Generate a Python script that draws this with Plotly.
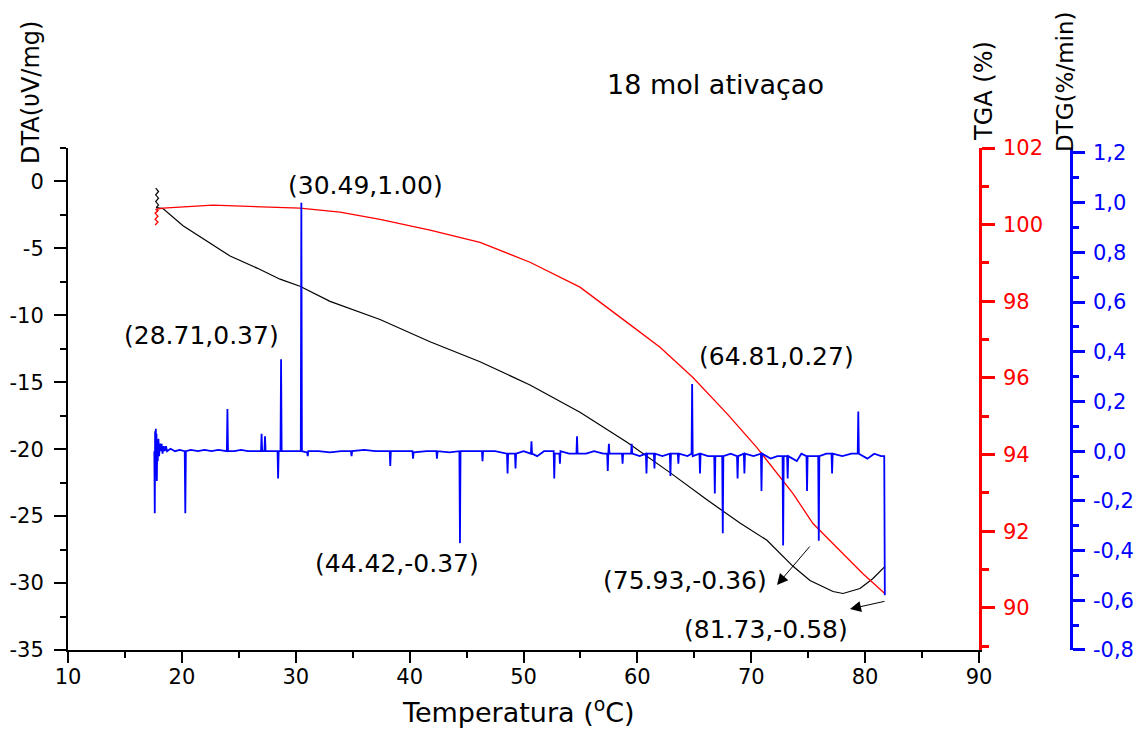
import plotly.graph_objects as go

# ---------------- data ----------------
dta_temp = [17.70, 17.95, 17.70, 17.95, 17.70, 17.95, 17.75, 18.34, 20.10, 22.21,
            24.23, 26.60, 28.62, 30.37, 33.01, 37.40, 41.79, 46.18, 50.57, 54.96,
            59.09, 62.87, 66.11, 69.01, 71.38, 73.67, 75.16, 77.18, 78.06, 79.55,
            80.69, 81.75]
dta_value = [-0.50, -0.75, -1.00, -1.25, -1.50, -1.75, -1.95, -2.03, -3.31, -4.44,
             -5.57, -6.47, -7.30, -7.83, -8.96, -10.31, -11.97, -13.47, -15.20, -17.24,
             -19.49, -21.75, -23.78, -25.52, -26.80, -28.75, -29.81, -30.63, -30.78, -30.41,
             -29.66, -28.75]

tga_temp = [17.65, 17.90, 17.65, 17.90, 17.65, 17.90, 17.70, 18.34, 22.73, 26.60,
            30.37, 33.89, 37.40, 41.79, 46.18, 50.57, 54.96, 59.09, 61.99, 64.88,
            67.87, 70.50, 73.67, 75.42, 77.79, 79.81, 81.75]
tga_value = [99.99, 100.07, 100.14, 100.22, 100.30, 100.36, 100.40, 100.43, 100.51, 100.46,
             100.43, 100.33, 100.14, 99.86, 99.54, 99.02, 98.37, 97.45, 96.80, 96.01,
             95.07, 94.18, 92.98, 92.20, 91.49, 90.89, 90.37]

dtg_temp = [17.58, 17.62, 17.65, 17.68, 17.71, 17.74, 17.77, 17.80, 17.84, 17.88,
            17.94, 18.00, 18.06, 18.14, 18.22, 18.30, 18.40, 18.50, 18.60, 18.70,
            19.00, 19.40, 19.80, 20.25, 20.30, 20.35, 20.80, 21.40, 22.00, 22.60,
            23.20, 23.95, 24.00, 24.05, 24.60, 25.20, 25.80, 26.40, 26.95, 27.00,
            27.05, 27.25, 27.30, 27.35, 28.00, 28.40, 28.45, 28.50, 28.66, 28.71,
            28.76, 29.40, 30.00, 30.44, 30.49, 30.54, 31.00, 31.05, 31.10, 32.00,
            33.00, 34.00, 34.85, 34.90, 34.95, 36.00, 37.00, 38.25, 38.30, 38.35,
            39.30, 40.25, 40.30, 40.35, 41.50, 42.35, 42.40, 42.45, 43.50, 44.37,
            44.42, 44.47, 45.20, 46.35, 46.40, 46.45, 47.50, 48.55, 48.60, 48.65,
            49.25, 49.30, 49.35, 50.00, 50.65, 50.70, 50.75, 51.20, 51.80, 52.65,
            52.70, 52.75, 53.15, 53.20, 53.25, 54.00, 54.65, 54.70, 54.75, 55.50,
            56.20, 57.00, 57.35, 57.40, 57.45, 57.50, 57.55, 58.20, 58.65, 58.70,
            58.75, 59.45, 59.50, 59.55, 60.20, 60.75, 60.80, 60.85, 61.45, 61.50,
            61.55, 62.20, 62.85, 62.90, 62.95, 63.55, 63.60, 63.65, 64.40, 64.76,
            64.81, 64.86, 65.45, 65.50, 65.55, 66.20, 66.75, 66.80, 66.85, 67.45,
            67.50, 67.55, 68.20, 68.75, 68.80, 68.85, 69.35, 69.40, 69.45, 70.20,
            70.85, 70.90, 70.95, 71.70, 72.30, 72.75, 72.80, 72.85, 73.15, 73.20,
            73.25, 74.00, 74.40, 74.85, 74.90, 74.95, 75.50, 75.88, 75.93, 75.98,
            76.60, 77.05, 77.10, 77.15, 78.00, 78.80, 79.35, 79.40, 79.45, 80.20,
            80.80, 81.40, 81.68, 81.73]
dtg_value = [0.00, -0.25, 0.08, -0.10, 0.09, -0.05, 0.07, -0.12, 0.04, -0.04,
             0.05, -0.02, 0.03, 0.00, 0.03, -0.01, 0.02, 0.00, 0.02, 0.00,
             0.01, 0.00, 0.005, 0.00, -0.25, 0.00, 0.005, 0.00, 0.005, 0.00,
             0.005, 0.00, 0.17, 0.00, 0.00, 0.005, 0.00, 0.00, 0.00, 0.07,
             0.00, 0.00, 0.06, 0.00, 0.00, 0.00, -0.11, 0.00, 0.00, 0.37,
             0.00, 0.00, 0.00, 0.00, 1.00, 0.00, -0.005, -0.02, 0.00, 0.00,
             -0.005, 0.00, 0.00, -0.02, 0.00, 0.005, 0.00, 0.00, -0.06, 0.00,
             0.00, 0.00, -0.03, -0.005, 0.00, 0.00, -0.03, 0.00, -0.005, 0.00,
             -0.37, 0.00, 0.00, 0.00, -0.04, 0.00, 0.00, -0.01, -0.09, -0.01,
             -0.01, -0.07, -0.01, 0.00, -0.01, 0.04, -0.01, -0.02, 0.00, 0.00,
             -0.11, -0.01, -0.01, -0.05, 0.00, -0.01, -0.01, 0.06, -0.01, -0.01,
             0.00, -0.01, -0.01, -0.08, -0.01, 0.03, -0.01, -0.01, -0.01, -0.05,
             -0.01, -0.01, 0.03, -0.01, -0.02, -0.01, -0.09, -0.01, -0.01, -0.07,
             -0.01, -0.02, -0.01, -0.10, -0.01, -0.01, -0.05, -0.01, -0.02, -0.01,
             0.27, -0.02, -0.01, -0.09, -0.01, -0.02, -0.02, -0.17, -0.02, -0.02,
             -0.33, -0.02, -0.01, -0.02, -0.11, -0.02, -0.01, -0.09, -0.01, -0.02,
             -0.01, -0.16, -0.01, -0.03, -0.02, -0.02, -0.38, -0.02, -0.02, -0.11,
             -0.02, -0.04, -0.01, -0.02, -0.16, -0.02, -0.02, -0.02, -0.36, -0.02,
             -0.01, -0.01, -0.09, -0.01, -0.02, -0.01, -0.01, 0.16, -0.01, -0.03,
             -0.01, -0.02, -0.02, -0.58]

x_ticks = [10, 20, 30, 40, 50, 60, 70, 80, 90]
dta_ticks = [-35, -30, -25, -20, -15, -10, -5, 0]
dta_tick_labels = ["-35", "-30", "-25", "-20", "-15", "-10", "-5", "0"]
tga_ticks = [90, 92, 94, 96, 98, 100, 102]
dtg_ticks = [-0.8, -0.6, -0.4, -0.2, 0.0, 0.2, 0.4, 0.6, 0.8, 1.0, 1.2]
dtg_tick_labels = ["-0,8", "-0,6", "-0,4", "-0,2", "0,0", "0,2", "0,4", "0,6", "0,8", "1,0", "1,2"]

peak_labels = ["(30.49,1.00)", "(28.71,0.37)", "(64.81,0.27)", "(44.42,-0.37)", "(75.93,-0.36)", "(81.73,-0.58)"]

# ---------------- layout helpers ----------------
OFF = 8                      # page body margin of the browser
W, H = 1145 - 2 * OFF, 731 - OFF
ML, MT = 68 - OFF, 148 - OFF
MB = H - (650 - OFF)
MR = 20
PW = W - ML - MR
PH = H - MT - MB
FONT = "DejaVu Sans"


def px(x):
    """window pixel x -> paper fraction"""
    return (x - OFF - ML) / PW


def py(y):
    """window pixel y -> paper fraction"""
    return (H - MB - (y - OFF)) / PH


fig = go.Figure()
fig.add_trace(go.Scatter(x=dta_temp, y=dta_value, mode="lines", name="DTA",
                         line=dict(color="black", width=1.2), yaxis="y"))
fig.add_trace(go.Scatter(x=tga_temp, y=tga_value, mode="lines", name="TGA",
                         line=dict(color="#ff0000", width=1.3), yaxis="y2"))
fig.add_trace(go.Scatter(x=dtg_temp, y=dtg_value, mode="lines", name="DTG",
                         line=dict(color="#0000ff", width=1.8), yaxis="y3"))

tick_font = dict(family=FONT, size=21, color="black")

fig.update_layout(
    width=W, height=H,
    margin=dict(l=ML, r=MR, t=MT, b=MB, autoexpand=False),
    paper_bgcolor="white", plot_bgcolor="white",
    showlegend=False,
    font=dict(family=FONT, color="black"),
    xaxis=dict(range=[9.999, 90.001], domain=[0, px(979)], anchor="y", automargin=False,
               showline=True, linecolor="black", linewidth=2, mirror=False,
               ticks="outside", ticklen=11, tickwidth=2, tickcolor="black",
               tickmode="array", tickvals=x_ticks, tickfont=tick_font,
               ticklabelstandoff=-4,
               minor=dict(ticks="outside", ticklen=6, tickwidth=2, dtick=5, tick0=10, tickcolor="black"),
               showgrid=False, zeroline=False),
    yaxis=dict(range=[-35.001, 2.5], anchor="x", automargin=False,
               showline=True, linecolor="black", linewidth=2,
               ticks="outside", ticklen=12, tickwidth=2, tickcolor="black",
               tickmode="array", tickvals=dta_ticks, ticktext=dta_tick_labels, tickfont=tick_font,
               ticklabelstandoff=6,
               minor=dict(ticks="outside", ticklen=6, tickwidth=2, dtick=2.5, tick0=0, tickcolor="black"),
               showgrid=False, zeroline=False),
    yaxis2=dict(range=[88.9, 102.001], overlaying="y", side="right", anchor="x", automargin=False,
                showline=True, linecolor="#ff0000", linewidth=2.5,
                ticks="outside", ticklen=13, tickwidth=2.5, tickcolor="#ff0000",
                tickmode="array", tickvals=tga_ticks,
                tickfont=dict(family=FONT, size=21, color="#ff0000"),
                ticklabelstandoff=4,
                minor=dict(ticks="outside", ticklen=7, tickwidth=2.5, dtick=1, tick0=90, tickcolor="#ff0000"),
                showgrid=False, zeroline=False),
    yaxis3=dict(range=[-0.8001, 1.22], overlaying="y", side="right", anchor="free", automargin=False,
                position=px(1071),
                showline=True, linecolor="#0000ff", linewidth=2.5,
                ticks="outside", ticklen=12, tickwidth=2.5, tickcolor="#0000ff",
                tickmode="array", tickvals=dtg_ticks, ticktext=dtg_tick_labels,
                tickfont=dict(family=FONT, size=21, color="#0000ff"),
                ticklabelstandoff=4,
                minor=dict(ticks="outside", ticklen=6, tickwidth=2.5, dtick=0.1, tick0=0, tickcolor="#0000ff"),
                showgrid=False, zeroline=False),
)

ann_font = dict(family=FONT, size=25, color="black")
label_pos = [(365, 185), (201, 335), (776, 356), (397, 563), (685, 580), (766, 629)]
for txt, (lx, ly) in zip(peak_labels, label_pos):
    fig.add_annotation(text=txt, x=px(lx), y=py(ly), xref="paper", yref="paper",
                       showarrow=False, font=ann_font, xanchor="center", yanchor="middle")

# arrows (head near label, tail at the peak)
for (hx, hy, tx, ty) in [(777, 585, 811, 545), (850, 609, 886, 601)]:
    fig.add_annotation(text="", x=px(hx), y=py(hy), xref="paper", yref="paper",
                       ax=tx - hx, ay=ty - hy, axref="pixel", ayref="pixel",
                       showarrow=True, arrowhead=2, arrowsize=2.2, arrowwidth=1, arrowcolor="black")


def title(text, x, y, size, angle=0):
    fig.add_annotation(text=text, x=px(x), y=py(y), xref="paper", yref="paper", textangle=angle,
                       xanchor="center", yanchor="middle", showarrow=False,
                       font=dict(family=FONT, size=size, color="black"))


title("18 mol ativaçao", 715, 85, 27)
title("Temperatura (<sup>o</sup>C)", 518, 710, 27)
title("DTA(υV/mg)", 31, 93, 24, -90)
title("TGA (%)", 984, 91, 24, -90)
title("DTG(%/min)", 1065, 82, 23, -90)

fig.write_html("out.html")
